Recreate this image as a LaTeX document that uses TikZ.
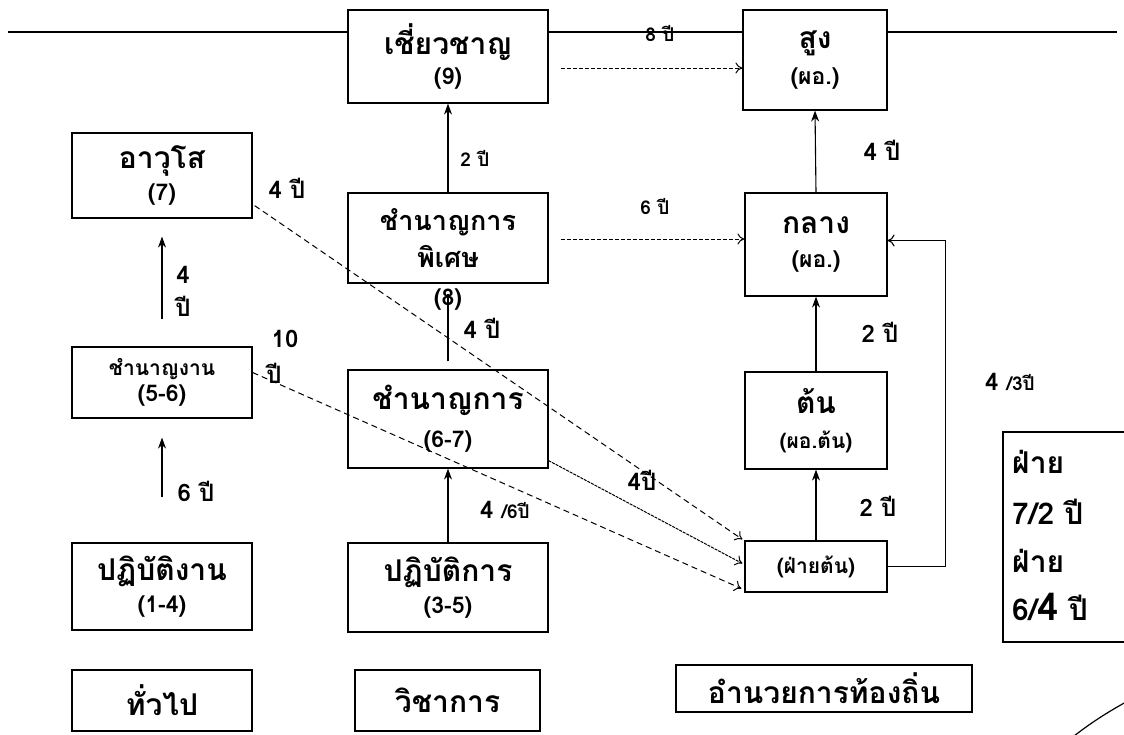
\documentclass[tikz,border=0pt]{standalone}
\usepackage{fontspec}
\newfontfamily\thai[Script=Thai]{Loma}
\usetikzlibrary{arrows.meta,calc}
\newcommand\tA{\thai\bfseries\fontsize{30}{32}\selectfont}
\newcommand\tAs{\thai\bfseries\fontsize{27}{29}\selectfont}
\newcommand\tB{\thai\bfseries\fontsize{23}{25}\selectfont}
\newcommand\tBs{\thai\bfseries\fontsize{21}{23}\selectfont}
\newcommand\tL{\thai\bfseries\fontsize{24}{26}\selectfont}
\newcommand\tS{\thai\bfseries\fontsize{19}{21}\selectfont}
\begin{document}
\begin{tikzpicture}[x=1pt,y=-1pt,
  box/.style={draw,line width=1.2pt,inner sep=0pt,align=center},
  lbl/.style={inner sep=0pt,align=center},
  up/.style={line width=1.1pt,-{Stealth[length=11pt,width=8pt]}},
  dasharrow/.style={line width=1pt,dash pattern=on 6pt off 4pt,-{To[length=7pt,width=11pt]}},
  loop/.style={line width=1.1pt,-{To[length=7pt,width=12pt]}}]
\useasboundingbox (0,0) rectangle (1124,734);

% boxes
\node[box,minimum width=200,minimum height=93] (exp) at (448,56.5) {\tA เชี่ยวชาญ\\[6pt]\tB (9)};
\node[box,minimum width=144,minimum height=100] (high) at (815,60) {\tA สูง\\[10pt]\tB (ผอ.)};
\node[box,minimum width=180,minimum height=85] (avs) at (162,175.5) {\tA อาวุโส\\[6pt]\tB (7)};
\node[box,minimum width=200,minimum height=90] (spec) at (448,238) {\tAs ชำนาญการ\\[8pt]\tAs พิเศษ};
\node[lbl] (n8) at (448,300) {\tB (8)};
\node[box,minimum width=142,minimum height=103] (mid) at (816,244.5) {\tA กลาง\\[16pt]\tB (ผอ.)};
\node[box,minimum width=180,minimum height=71] (skw) at (162,382.5) {\tBs ชำนาญงาน\\[4pt]\tB (5-6)};
\node[box,minimum width=200,minimum height=98] (pro) at (448,419) {\tA ชำนาญการ\\[14pt]\tB (6-7)};
\node[box,minimum width=142,minimum height=97] (low) at (816,420.5) {\tA ต้น\\[16pt]\tBs (ผอ.ต้น)};
\node[box,minimum width=142,minimum height=51] (fai) at (816,566.5) {\tBs (ฝ่ายต้น)};
\node[box,minimum width=180,minimum height=87] (opw) at (162,586.5) {\tA ปฏิบัติงาน\\[8pt]\tB (1-4)};
\node[box,minimum width=200,minimum height=89] (opa) at (448,587.5) {\tA ปฏิบัติการ\\[8pt]\tB (3-5)};
\node[box,minimum width=180,minimum height=61] (gen) at (162,700.5) {\tA ทั่วไป};
\node[box,minimum width=185,minimum height=61] (aca) at (447.5,700.5) {\tA วิชาการ};
\node[box,minimum width=296,minimum height=47] (adm) at (824,688.5) {\tA อำนวยการท้องถิ่น};

% right partial box
\draw[line width=1.2pt] (1124,432) -- (1003,432) -- (1003,642) -- (1124,642);
\node[lbl,anchor=west] (r1) at (1012,462) {\tA ฝ่าย};
\node[lbl,anchor=west] (r2) at (1012,512) {\tA 7/2 ปี};
\node[lbl,anchor=west] (r3) at (1012,561) {\tA ฝ่าย};
\node[lbl,anchor=west] (r4) at (1012,607) {\tA 6/{\fontsize{38}{40}\selectfont 4} ปี};

% top line
\coordinate (tl) at (8,32);
\coordinate (tr) at (1117,32);
\draw[line width=2.2pt] (tl) -- (exp.west |- tl);
\draw[line width=2.2pt] (exp.east |- tl) -- (high.west |- tl);
\draw[line width=2.2pt] (high.east |- tl) -- (tr);
\node[lbl] (l8) at (660,34) {\tS 8 ปี};

% solid arrows
\draw[up,shorten <=27pt,shorten >=18pt] (skw.north) -- (avs.south);
\draw[up,shorten <=45pt,shorten >=19pt] (opw.north) -- (skw.south);
\draw[up] (opa.north) -- (pro.south);
\draw[line width=1.1pt,shorten <=8pt] (pro.north) -- ($(spec.south)+(0,10)$);
\draw[up] (spec.north) -- (exp.south);
\draw[up] (mid.north) -- (high.south);
\draw[up] (low.north) -- (mid.south);
\draw[up] (fai.north) -- (low.south);
\draw[loop] (fai.east) -- ++(58,0) |- ($(mid.east)+(0,-4)$);

% dashed arrows
\draw[dasharrow,dash pattern=on 4pt off 2pt] ($(exp.east)+(12,11.5)$) -- ($(high.west)+(0,8)$);
\draw[dasharrow,dash pattern=on 4pt off 2pt] ($(spec.east)+(12,1)$) -- ($(mid.west)+(0,-5.5)$);
\draw[dasharrow] ($(avs.south east)+(2,-13)$) -- ($(fai.north west)+(-2,-1)$);
\draw[dasharrow] ($(skw.east)+(0,-10)$) -- ($(fai.south west)+(-3,-4)$);
\draw[dasharrow,dash pattern=on 3pt off 1pt] ($(pro.south east)+(0,-8)$) -- ($(fai.west)+(-2,-3)$);

% labels
\node[lbl] (a1) at (475,158) {\tS 2 ปี};
\node[lbl] (a2) at (882,150) {\tL 4 ปี};
\node[lbl] (a3) at (655,207) {\tS 6 ปี};
\node[lbl] (a4) at (287,188) {\tL 4 ปี};
\node[lbl] (a5) at (183,275) {\tL 4};
\node[lbl] (a6) at (183,306) {\tL ปี};
\node[lbl] (a7) at (285,339) {\tL 10};
\node[lbl] (a8) at (274,373) {\tL ปี};
\node[lbl] (a9) at (482,328) {\tL 4 ปี};
\node[lbl] (a10) at (880,332) {\tL 2 ปี};
\node[lbl] (a11) at (1010,382) {\tL 4 {\tS /3ปี}};
\node[lbl] (a12) at (196,491) {\tL 6 ปี};
\node[lbl] (a13) at (642,480) {\tL 4ปี};
\node[lbl] (a14) at (505,510) {\tL 4 {\tS /6ปี}};
\node[lbl] (a15) at (878,506) {\tL 2 ปี};

% corner arc
\draw[line width=1.2pt] (1074,736) .. controls (1092,722) and (1108,712) .. (1126,702);
\end{tikzpicture}
\end{document}
